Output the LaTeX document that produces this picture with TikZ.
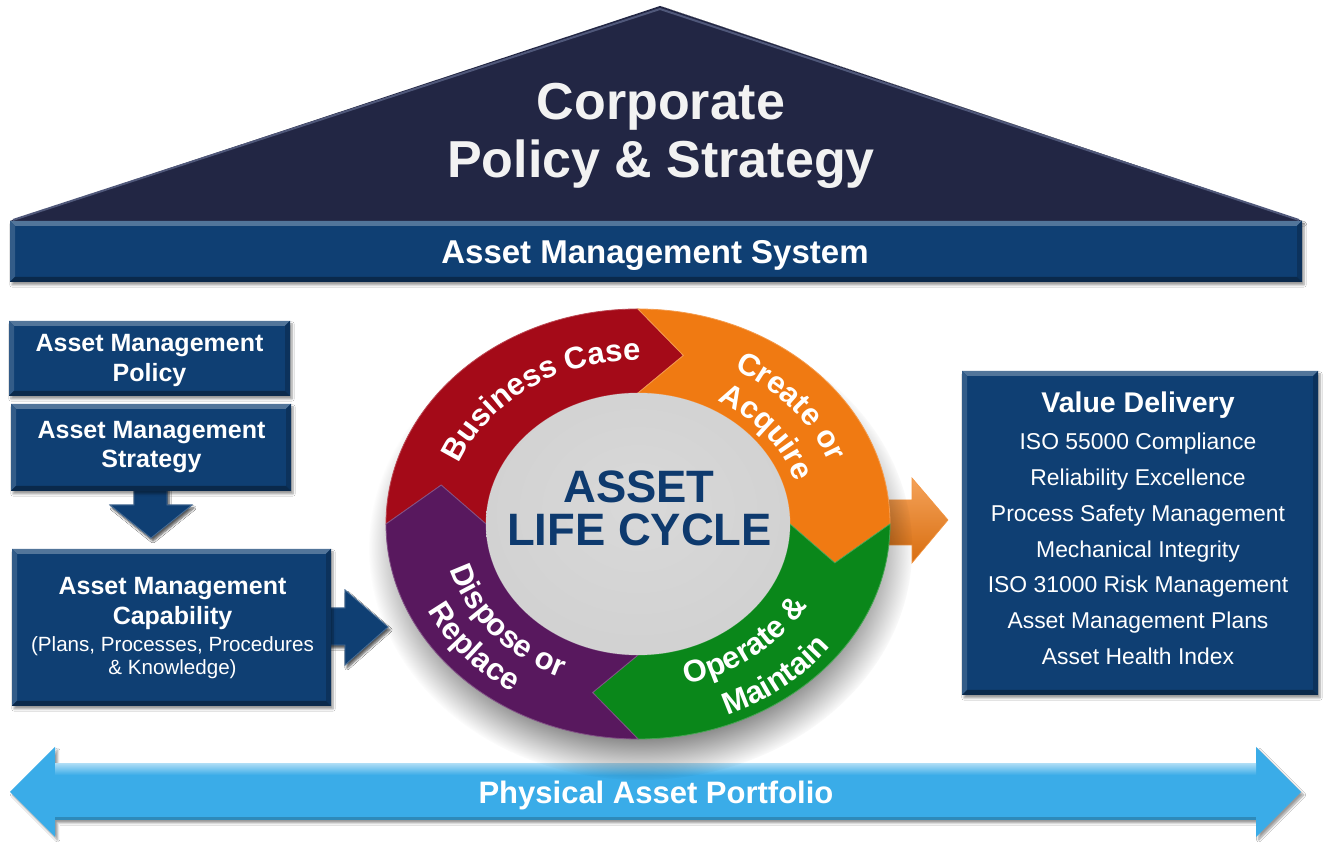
\documentclass[tikz,border=0pt]{standalone}
\usepackage{fontspec}
\setmainfont{Liberation Sans}
\usetikzlibrary{decorations.text,fadings,shadows.blur}

\definecolor{roofnavy}{RGB}{34,38,68}
\definecolor{roofedge}{RGB}{80,88,122}
\definecolor{boxblue}{RGB}{15,63,115}
\definecolor{lightblue}{RGB}{58,172,232}
\definecolor{ringred}{RGB}{164,10,24}
\definecolor{ringorange}{RGB}{240,122,18}
\definecolor{ringgreen}{RGB}{10,135,26}
\definecolor{ringpurple}{RGB}{88,24,94}
\definecolor{cyclenavy}{RGB}{14,58,110}
\definecolor{offwhite}{RGB}{242,242,242}

\pgfdeclareradialshading{greyball}{\pgfpoint{0bp}{4bp}}{color(0bp)=(black!15); color(38bp)=(black!19); color(46bp)=(black!23); color(50bp)=(black!40)}

\newcommand\fCorp{\fontsize{52}{56}\selectfont\bfseries}
\newcommand\fAms{\fontsize{33}{36}\selectfont\bfseries}
\newcommand\fBox{\fontsize{25}{30}\selectfont\bfseries}
\newcommand\fSmall{\fontsize{20.6}{24}\selectfont}
\newcommand\fVal{\fontsize{28.5}{32}\selectfont\bfseries}
\newcommand\fItem{\fontsize{22.9}{27}\selectfont}
\newcommand\fPhys{\fontsize{31}{34}\selectfont\bfseries}
\newcommand\fCycle{\fontsize{45.4}{43}\selectfont\bfseries}
\newcommand\fRing{\fontsize{31}{31}\selectfont\bfseries}

\tikzset{
  bevelbox/.style={fill=boxblue, inner sep=0pt,
    blur shadow={shadow xshift=2pt, shadow yshift=-3pt, shadow blur steps=6},
    path picture={
      \fill[boxblue!72!white] (path picture bounding box.north west) -- (path picture bounding box.north east) -- ([shift={(-5pt,-5pt)}]path picture bounding box.north east) -- ([shift={(5pt,-5pt)}]path picture bounding box.north west) -- cycle;
      \fill[boxblue!85!white] (path picture bounding box.north west) -- ([shift={(5pt,-5pt)}]path picture bounding box.north west) -- ([shift={(5pt,5pt)}]path picture bounding box.south west) -- (path picture bounding box.south west) -- cycle;
      \fill[boxblue!80!black] (path picture bounding box.north east) -- ([shift={(-5pt,-5pt)}]path picture bounding box.north east) -- ([shift={(-5pt,5pt)}]path picture bounding box.south east) -- (path picture bounding box.south east) -- cycle;
      \fill[boxblue!65!black] (path picture bounding box.south west) -- (path picture bounding box.south east) -- ([shift={(-5pt,5pt)}]path picture bounding box.south east) -- ([shift={(5pt,5pt)}]path picture bounding box.south west) -- cycle;
    }},
  lbl/.style={text=white, inner sep=0pt, anchor=base},
  blockarrow/.style={fill=boxblue, draw=boxblue!75!white, line width=0.8pt, line join=miter,
    blur shadow={shadow xshift=2pt, shadow yshift=-3pt, shadow blur steps=6}},
  ringtext/.style={decorate, decoration={text along path, text align=center, text color=white, text={#1}}}
}

\begin{document}
\begin{tikzpicture}[x=1pt,y=1pt]
\useasboundingbox (0,0) rectangle (1326,850);
\fill[white] (0,0) rectangle (1326,850);

% ---------- roof ----------
\fill[roofnavy, blur shadow={shadow yshift=-3pt, shadow blur steps=6}] (10,629) -- (660,844) -- (1302,629) -- cycle;
\draw[roofedge, line width=2pt, line join=round] (13,630) -- (660,841) -- (1299,630);
\node[lbl, text=offwhite, font=\fCorp] (corp1) at (661,730) {Corporate};
\node[lbl, text=offwhite, font=\fCorp] (corp2) at (661,672) {Policy \& Strategy};

% ---------- asset management system bar ----------
\node[bevelbox, minimum width=1292pt, minimum height=61pt] (ams) at (656,598.5) {};
\node[lbl, font=\fAms] (amst) at (655,586) {Asset Management System};

% ---------- physical asset portfolio ----------
\fill[lightblue, blur shadow={shadow yshift=-3pt, shadow blur steps=6}]
  (10,58) -- (55,103) -- (55,86) -- (1256,86) -- (1256,103) -- (1301,58) -- (1256,13) -- (1256,30) -- (55,30) -- (55,13) -- cycle;
\shade[top color=lightblue!45!white, bottom color=lightblue] (55,86) rectangle (1256,75);
\fill[lightblue!80!black] (55,30) rectangle (1256,33);
\node[lbl, font=\fPhys] (pap) at (656,46) {Physical Asset Portfolio};

% ---------- left column ----------
\fill[blockarrow] (134,365) -- (134,345) -- (110,345) -- (151,312) -- (192,345) -- (167,345) -- (167,365) -- cycle;
\fill[blockarrow] (320,205) -- (345,205) -- (345,185) -- (388,223) -- (345,260) -- (345,242) -- (320,242) -- cycle;
\draw[blockarrow] (134,365) -- (134,345) -- (110,345) -- (151,312) -- (192,345) -- (167,345) -- (167,365);
\draw[blockarrow] (320,205) -- (345,205) -- (345,185) -- (388,223) -- (345,260) -- (345,242) -- (320,242);

\node[bevelbox, minimum width=281pt, minimum height=75pt] (policy) at (149.5,491.5) {};
\node[lbl, font=\fBox] (pol1) at (149.5,498) {Asset Management};
\node[lbl, font=\fBox] (pol2) at (149.5,468) {Policy};

\node[bevelbox, minimum width=280pt, minimum height=87pt] (strategy) at (151,402.5) {};
\node[lbl, font=\fBox] (str1) at (151.5,411) {Asset Management};
\node[lbl, font=\fBox] (str2) at (151.5,382) {Strategy};

\node[bevelbox, minimum width=319pt, minimum height=157pt] (capab) at (171.5,222.5) {};
\node[lbl, font=\fBox] (cap1) at (172.5,255) {Asset Management};
\node[lbl, font=\fBox] (cap2) at (172.5,225) {Capability};
\node[lbl, font=\fSmall] (cap3) at (172.5,198) {(Plans, Processes, Procedures};
\node[lbl, font=\fSmall] (cap4) at (172.5,175) {\& Knowledge)};

% ---------- value delivery ----------
\node[bevelbox, minimum width=356pt, minimum height=324pt] (value) at (1140,317) {};
\node[lbl, font=\fVal] (v0) at (1138,437) {Value Delivery};
\foreach \yy/\txt [count=\k] in {400/ISO 55000 Compliance, 364/Reliability Excellence, 328/Process Safety Management, 292/Mechanical Integrity, 257/ISO 31000 Risk Management, 221/Asset Management Plans, 185/Asset Health Index}
  \node[lbl, font=\fItem] (v\k) at (1138,\yy) {\txt};

% ---------- orange output arrow ----------
\shade[top color=ringorange!70!white, bottom color=ringorange!90!black, draw=ringorange!80!white, line width=0.6pt]
  (870,305) -- (912,305) -- (912,287) -- (948,330) -- (912,372) -- (912,350) -- (870,350) -- cycle;

% ---------- life cycle ring ----------
\fill[black, opacity=0.5, path fading=circle with fuzzy edge 20 percent] (641,302) ellipse [x radius=272pt, y radius=232pt];
\begin{scope}[shift={(638,326)}]
  \foreach \sa/\col in {180/ringred, 90/ringorange, 0/ringgreen, -90/ringpurple} {
    \pgfmathsetmacro\segend{\sa-90}
    \pgfmathsetmacro\segtip{\sa-103}
    \pgfmathsetmacro\segnotch{\sa-13}
    \fill[\col, draw=\col!75!white, line width=0.8pt, line join=miter]
      (\sa:252pt and 215pt) arc[start angle=\sa, end angle=\segend, x radius=252pt, y radius=215pt]
      -- (\segtip:202pt and 173pt) -- (\segend:152pt and 131pt)
      arc[start angle=\segend, end angle=\sa, x radius=152pt, y radius=131pt]
      -- (\segnotch:202pt and 173pt) -- cycle;
  }
  \shade[shading=greyball] (0,0) ellipse [x radius=152pt, y radius=131pt];

  \path[ringtext={|\fRing|Business Case}] (175:192pt and 164pt) arc[start angle=175, end angle=75, x radius=192pt, y radius=164pt];
  \path[ringtext={|\fRing|Create or}] (80:204pt and 175pt) arc[start angle=80, end angle=0, x radius=204pt, y radius=175pt];
  \path[ringtext={|\fRing|Acquire}] (78:165pt and 141pt) arc[start angle=78, end angle=-2, x radius=165pt, y radius=141pt];
  \path[ringtext={|\fRing|Operate {\&}}] (-100:194pt and 166pt) arc[start angle=-100, end angle=-1, x radius=194pt, y radius=166pt];
  \path[ringtext={|\fRing|Maintain}] (-91:240pt and 206pt) arc[start angle=-91, end angle=-11, x radius=240pt, y radius=206pt];
  \path[ringtext={|\fRing|Dispose or}] (170:195pt and 167pt) arc[start angle=170, end angle=269, x radius=195pt, y radius=167pt];
  \path[ringtext={|\fRing|Replace}] (180:233pt and 200pt) arc[start angle=180, end angle=260, x radius=233pt, y radius=200pt];
\end{scope}
\node[lbl, text=cyclenavy, font=\fCycle] (asset) at (639,347) {ASSET};
\node[lbl, text=cyclenavy, font=\fCycle] (lifecycle) at (639.5,304) {LIFE CYCLE};
\end{tikzpicture}
\end{document}
